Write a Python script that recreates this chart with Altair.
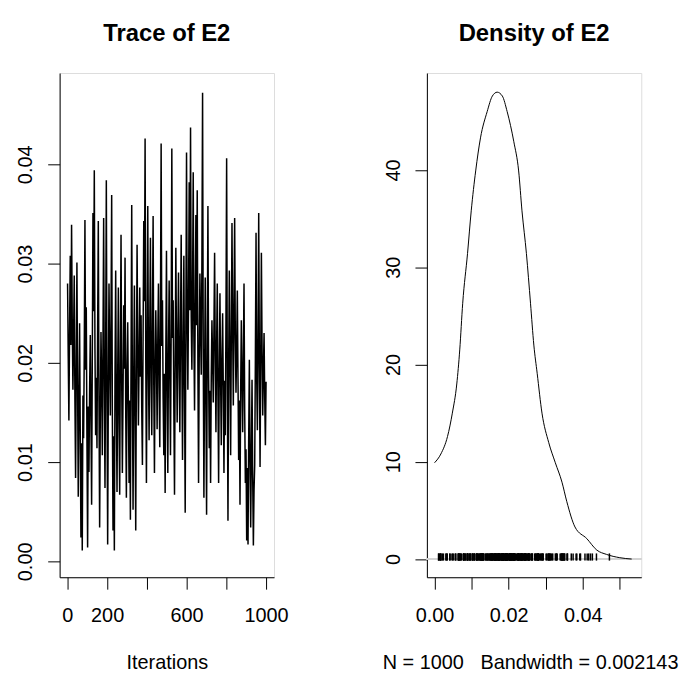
import altair as alt
import pandas as pd
import numpy as np

FONT = "Liberation Sans"

# ---- data ----
trace_values = [
    0.0280, 0.0207, 0.0142, 0.0233, 0.0308, 0.0218, 0.0339, 0.0244, 0.0173, 0.0226,
    0.0288, 0.0163, 0.0084, 0.0196, 0.0301, 0.0178, 0.0065, 0.0154, 0.0240, 0.0131,
    0.0024, 0.0119, 0.0011, 0.0167, 0.0124, 0.0212, 0.0344, 0.0193, 0.0256, 0.0122,
    0.0014, 0.0156, 0.0090, 0.0174, 0.0228, 0.0143, 0.0057, 0.0203, 0.0351, 0.0252,
    0.0394, 0.0214, 0.0127, 0.0185, 0.0114, 0.0236, 0.0343, 0.0161, 0.0034, 0.0148,
    0.0231, 0.0183, 0.0107, 0.0221, 0.0346, 0.0176, 0.0074, 0.0209, 0.0384, 0.0166,
    0.0017, 0.0172, 0.0280, 0.0204, 0.0147, 0.0245, 0.0369, 0.0152, 0.0031, 0.0126,
    0.0011, 0.0191, 0.0293, 0.0157, 0.0070, 0.0187, 0.0276, 0.0139, 0.0067, 0.0213,
    0.0329, 0.0182, 0.0089, 0.0169, 0.0258, 0.0194, 0.0306, 0.0153, 0.0064, 0.0197,
    0.0241, 0.0158, 0.0079, 0.0162, 0.0042, 0.0205, 0.0359, 0.0173, 0.0052, 0.0184,
    0.0278, 0.0144, 0.0031, 0.0192, 0.0319, 0.0216, 0.0137, 0.0201, 0.0276, 0.0186,
    0.0248, 0.0151, 0.0097, 0.0227, 0.0343, 0.0262, 0.0426, 0.0206, 0.0079, 0.0211,
    0.0358, 0.0195, 0.0122, 0.0234, 0.0326, 0.0181, 0.0127, 0.0243, 0.0348, 0.0177,
    0.0089, 0.0198, 0.0253, 0.0202, 0.0133, 0.0223, 0.0280, 0.0175, 0.0115, 0.0254,
    0.0421, 0.0217, 0.0263, 0.0164, 0.0107, 0.0189, 0.0069, 0.0208, 0.0313, 0.0171,
    0.0089, 0.0213, 0.0283, 0.0185, 0.0107, 0.0232, 0.0416, 0.0225, 0.0263, 0.0155,
    0.0067, 0.0199, 0.0316, 0.0215, 0.0140, 0.0228, 0.0291, 0.0193, 0.0130, 0.0237,
    0.0329, 0.0204, 0.0102, 0.0211, 0.0308, 0.0174, 0.0049, 0.0235, 0.0412, 0.0246,
    0.0173, 0.0264, 0.0382, 0.0253, 0.0437, 0.0247, 0.0193, 0.0272, 0.0392, 0.0226,
    0.0152, 0.0255, 0.0349, 0.0238, 0.0374, 0.0196, 0.0079, 0.0207, 0.0290, 0.0234,
    0.0188, 0.0303, 0.0472, 0.0214, 0.0064, 0.0183, 0.0286, 0.0165, 0.0047, 0.0212,
    0.0358, 0.0192, 0.0114, 0.0172, 0.0079, 0.0186, 0.0243, 0.0203, 0.0160, 0.0236,
    0.0311, 0.0207, 0.0130, 0.0216, 0.0280, 0.0167, 0.0079, 0.0194, 0.0270, 0.0183,
    0.0117, 0.0205, 0.0250, 0.0176, 0.0089, 0.0182, 0.0127, 0.0245, 0.0406, 0.0187,
    0.0041, 0.0195, 0.0293, 0.0206, 0.0107, 0.0227, 0.0341, 0.0235, 0.0157, 0.0256,
    0.0346, 0.0225, 0.0170, 0.0214, 0.0273, 0.0184, 0.0102, 0.0162, 0.0057, 0.0173,
    0.0243, 0.0185, 0.0130, 0.0203, 0.0280, 0.0153, 0.0079, 0.0113, 0.0021, 0.0094,
    0.0017, 0.0124, 0.0203, 0.0103, 0.0034, 0.0112, 0.0183, 0.0084, 0.0016, 0.0072,
    0.0097, 0.0204, 0.0331, 0.0184, 0.0132, 0.0226, 0.0351, 0.0195, 0.0095, 0.0205,
    0.0311, 0.0215, 0.0147, 0.0193, 0.0230, 0.0164, 0.0117, 0.0181,
]
iterations = np.linspace(1, 1000, len(trace_values))

density_x = [0.0000, 0.0017, 0.0035, 0.0048, 0.0060, 0.0068, 0.0076, 0.0089, 0.0099,
             0.0111, 0.0124, 0.0142, 0.0156, 0.0169, 0.0183, 0.0196, 0.0214, 0.0227,
             0.0236, 0.0248, 0.0259, 0.0268, 0.0277, 0.0290, 0.0308, 0.0326, 0.0344,
             0.0357, 0.0379, 0.0411, 0.0438, 0.0464, 0.0500, 0.0532]
density_y = [9.9, 10.8, 12.6, 15.0, 18.0, 21.5, 26.3, 31.4, 35.8,
             39.9, 43.3, 46.0, 47.6, 48.0, 47.6, 46.0, 42.9, 39.9,
             35.8, 31.4, 26.3, 22.0, 19.1, 15.0, 12.0, 9.9, 7.9,
             5.9, 3.3, 2.1, 0.92, 0.48, 0.14, 0.0]

trace_xticks = [0, 200, 400, 600, 800, 1000]
trace_yticks = [0.00, 0.01, 0.02, 0.03, 0.04]
dens_xticks = [0.00, 0.01, 0.02, 0.03, 0.04, 0.05]
dens_yticks = [0, 10, 20, 30, 40]

panel_titles = ["Trace of E2", "Density of E2"]
x_titles = ["Iterations", "N = 1000\u00a0\u00a0\u00a0Bandwidth = 0.002143"]

W, H = 216, 508


def xaxis(**kw):
    return alt.Axis(
        domainColor="black", tickColor="black", domainWidth=1, tickWidth=1,
        tickSize=12, labelFont=FONT, labelFontSize=20, labelColor="black",
        titleFont=FONT, titleFontSize=20, titleFontWeight="normal", titleColor="black",
        grid=False, labelPadding=17, titleBaseline="alphabetic", titleY=92, **kw)


def yaxis(**kw):
    return alt.Axis(
        domainColor="black", tickColor="black", domainWidth=1, tickWidth=1,
        tickSize=12, labelFont=FONT, labelFontSize=20, labelColor="black",
        grid=False, labelAngle=270, labelAlign="center", labelBaseline="bottom",
        labelPadding=12, title=None, **kw)


def title_layer(text):
    return alt.Chart(pd.DataFrame({"t": [text]})).mark_text(
        font=FONT, fontSize=24, fontWeight="bold", color="black",
        align="center", baseline="alphabetic",
    ).encode(text="t:N", x=alt.value(W / 2), y=alt.value(-32.5))


# ---- trace panel ----
trace_df = pd.DataFrame({"iter": iterations, "value": trace_values})

trace_line = alt.Chart(trace_df).mark_line(color="black", strokeWidth=1.5).encode(
    x=alt.X("iter:Q", scale=alt.Scale(domain=[-39, 1040], nice=False, zero=False),
            axis=xaxis(values=trace_xticks, format="d", title=x_titles[0],
                       labelExpr="(datum.value == 400 || datum.value == 800) ? '' : datum.label")),
    y=alt.Y("value:Q", scale=alt.Scale(domain=[-0.0016, 0.0492], nice=False, zero=False),
            axis=yaxis(values=trace_yticks, format=".2f")),
)

trace = alt.layer(trace_line, title_layer(panel_titles[0])).properties(width=W, height=H)

# ---- density panel ----
dens_df = pd.DataFrame({"x": density_x, "d": density_y})
rug_df = pd.DataFrame({"value": trace_values})

dx = alt.Scale(domain=[-0.00207, 0.0558], nice=False, zero=False)
dy = alt.Scale(domain=[-1.87, 49.97], nice=False, zero=False)

zero_line = alt.Chart(dens_df).mark_rule(color="#d3d3d3", strokeWidth=1).encode(
    x=alt.value(0), x2=alt.value(W), y=alt.Y(datum=0, type="quantitative", scale=dy),
)

rug = alt.Chart(rug_df).mark_rule(color="black", strokeWidth=1.5).encode(
    x=alt.X("value:Q", scale=dx),
    y=alt.Y(datum=0.58, type="quantitative", scale=dy),
    y2=alt.datum(-0.16),
)

dline = alt.Chart(dens_df).mark_line(color="black", strokeWidth=1, interpolate="monotone").encode(
    x=alt.X("x:Q", scale=dx,
            axis=xaxis(values=dens_xticks, format=".2f", title=x_titles[1], titleX=104,
                       labelExpr="indexof(['0.00','0.02','0.04'], datum.label) >= 0 ? datum.label : ''")),
    y=alt.Y("d:Q", scale=dy, axis=yaxis(values=dens_yticks, format="d")),
)

density = alt.layer(zero_line, rug, dline, title_layer(panel_titles[1])).properties(width=W, height=H)

chart = alt.hconcat(trace, density, spacing=93).properties(
    padding={"left": 7, "top": 11, "right": 0, "bottom": 0}
).configure_view(stroke=None).configure(background="white")

chart.save("out.html", embed_options={"renderer": "svg", "actions": False})
